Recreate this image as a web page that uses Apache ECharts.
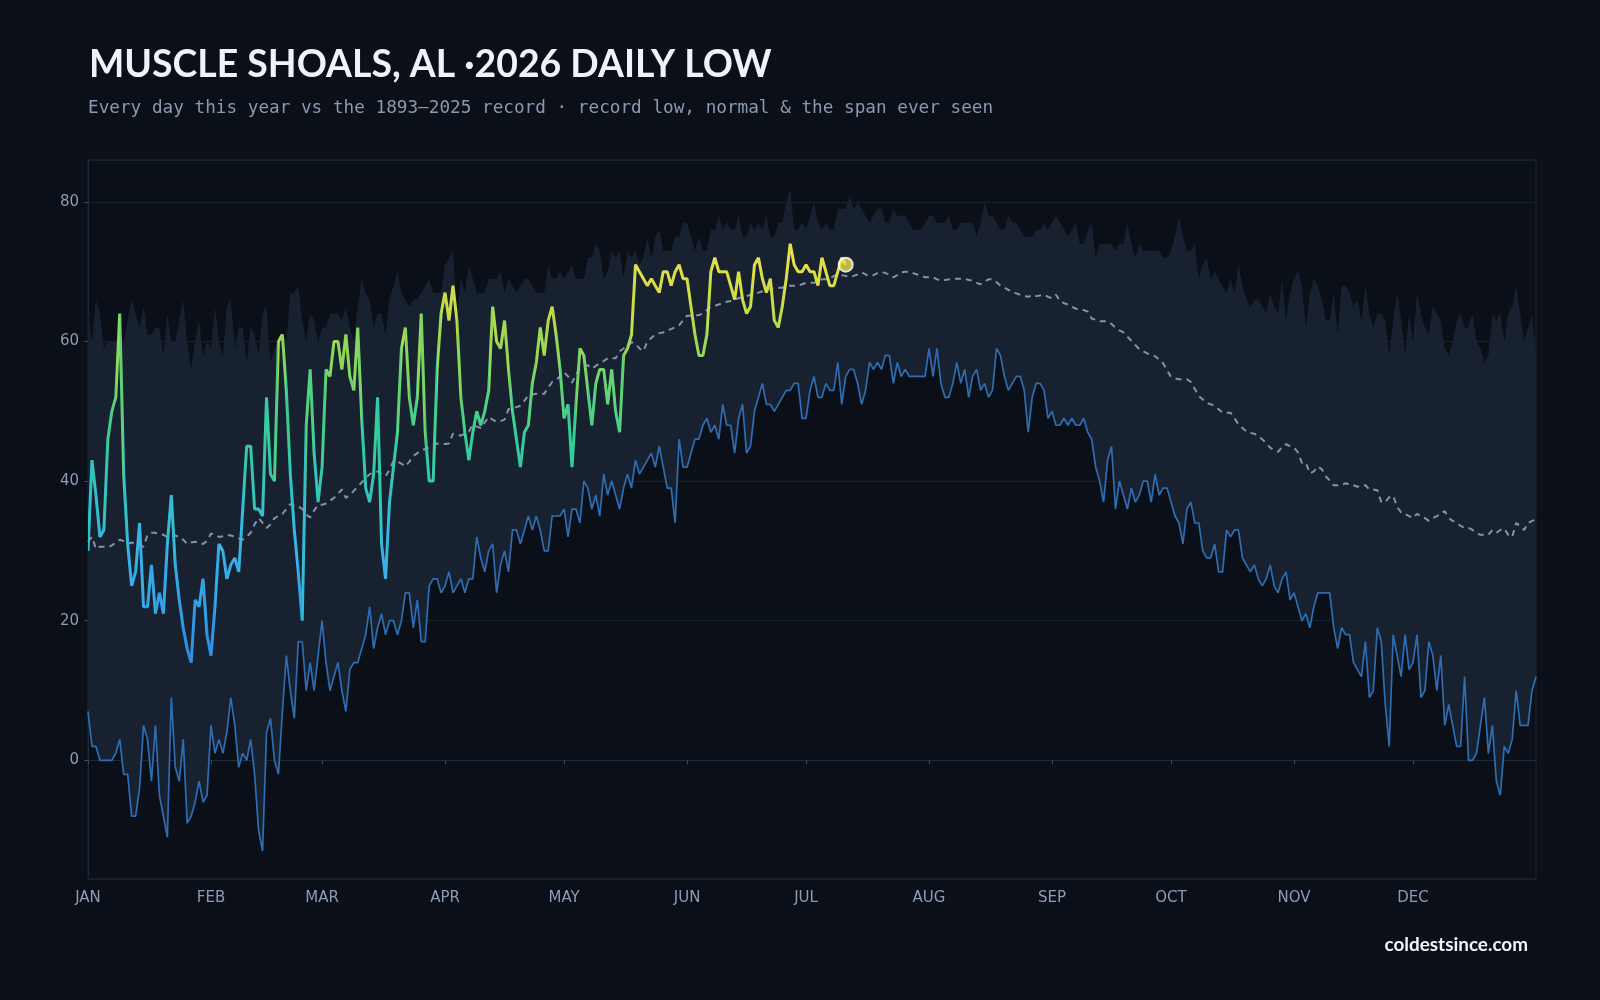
<!DOCTYPE html>
<html>
<head>
<meta charset="utf-8">
<script src="https://cdn.jsdelivr.net/npm/echarts@6/dist/echarts.min.js"></script>
<style>
  html, body { margin: 0; padding: 0; background: #0b0f17; }
  #chart { width: 1600px; height: 1000px; }
</style>
</head>
<body>
<div id="chart"></div>
<script>
// month ticks (day index where each month starts)
const MONTHS = ['JAN','FEB','MAR','APR','MAY','JUN','JUL','AUG','SEP','OCT','NOV','DEC'];
const MONTH_START = [0, 31, 59, 90, 120, 151, 181, 212, 243, 273, 304, 334];

// 2026 daily lows so far (Jan 1 .. Jul 11)
const LOW_2026 = [
  30, 43, 38, 32, 33, 46, 50, 52, 64, 41,
  31, 25, 27, 34, 22, 22, 28, 21, 24, 21,
  31, 38, 28, 23, 19, 16, 14, 23, 22, 26,
  18, 15, 22, 31, 30, 26, 28, 29, 27, 36,
  45, 45, 36, 36, 35, 52, 41, 40, 60, 61,
  53, 41, 33, 27, 20, 48, 56, 44, 37, 42,
  56, 55, 60, 60, 56, 61, 55, 53, 62, 49,
  39, 37, 41, 52, 31, 26, 37, 42, 47, 59,
  62, 52, 48, 52, 64, 47, 40, 40, 56, 64,
  67, 63, 68, 63, 52, 47, 43, 47, 50, 48,
  50, 53, 65, 60, 59, 63, 56, 50, 46, 42,
  47, 48, 54, 57, 62, 58, 63, 65, 61, 56,
  49, 51, 42, 51, 59, 58, 53, 48, 54, 56,
  56, 51, 56, 50, 47, 58, 59, 61, 71, 70,
  69, 68, 69, 68, 67, 70, 70, 68, 70, 71,
  69, 69, 65, 61, 58, 58, 61, 70, 72, 70,
  70, 70, 68, 66, 70, 66, 64, 65, 71, 72,
  69, 67, 69, 63, 62, 65, 69, 74, 71, 70,
  70, 71, 70, 70, 68, 72, 70, 68, 68, 70,
  72, 71
];

// record low for each day, 1893-2025
const REC_LOW = [
  7, 2, 2, 0, 0, 0, 0, 1, 3, -2,
  -2, -8, -8, -4, 5, 3, -3, 5, -5, -8,
  -11, 9, -1, -3, 3, -9, -8, -6, -3, -6,
  -5, 5, 1, 3, 1, 4, 9, 5, -1, 1,
  0, 3, -2, -10, -13, 4, 6, 0, -2, 7,
  15, 10, 6, 17, 17, 10, 14, 10, 15, 20,
  14, 10, 12, 14, 10, 7, 13, 14, 14, 16,
  18, 22, 16, 19, 21, 18, 20, 20, 18, 20,
  24, 24, 19, 23, 17, 17, 25, 26, 26, 24,
  25, 27, 24, 25, 26, 24, 26, 26, 32, 29,
  27, 30, 31, 24, 28, 30, 27, 33, 33, 31,
  33, 35, 33, 35, 33, 30, 30, 35, 35, 35,
  36, 32, 36, 36, 34, 40, 39, 36, 38, 35,
  41, 38, 40, 38, 36, 39, 41, 39, 43, 41,
  42, 43, 44, 42, 45, 42, 39, 39, 34, 46,
  42, 42, 44, 46, 46, 48, 49, 47, 48, 46,
  51, 48, 48, 44, 49, 51, 44, 45, 50, 52,
  54, 51, 51, 50, 51, 52, 53, 53, 54, 54,
  49, 49, 53, 55, 52, 52, 54, 53, 53, 57,
  51, 55, 56, 56, 54, 51, 53, 57, 56, 57,
  56, 58, 58, 54, 57, 55, 56, 55, 55, 55,
  55, 55, 59, 55, 59, 54, 52, 52, 54, 57,
  54, 56, 52, 55, 56, 53, 54, 52, 53, 59,
  58, 55, 53, 54, 55, 55, 53, 47, 52, 54,
  54, 53, 49, 50, 48, 48, 49, 48, 49, 48,
  48, 49, 47, 46, 42, 40, 37, 43, 45, 36,
  40, 38, 36, 39, 37, 38, 40, 40, 37, 41,
  38, 39, 39, 37, 35, 34, 31, 36, 37, 34,
  34, 30, 29, 29, 31, 27, 27, 33, 32, 33,
  33, 29, 28, 27, 28, 26, 25, 26, 28, 25,
  24, 26, 27, 23, 24, 22, 20, 21, 19, 22,
  24, 24, 24, 24, 19, 16, 19, 18, 18, 14,
  13, 12, 17, 9, 10, 19, 17, 8, 2, 18,
  15, 12, 18, 13, 14, 18, 9, 10, 17, 15,
  10, 15, 5, 8, 5, 2, 2, 12, 0, 0,
  1, 5, 9, 1, 5, -3, -5, 2, 1, 3,
  10, 5, 5, 5, 10, 12
];

// warmest low ever seen for each day (top of the span)
const REC_HIGH = [
  64, 60, 66, 64, 59, 60, 60, 60, 61, 60,
  63, 66, 64, 62, 65, 61, 61, 62, 62, 58,
  64, 60, 60, 63, 66, 60, 56, 60, 63, 58,
  60, 59, 65, 60, 58, 65, 66, 59, 62, 62,
  57, 62, 61, 58, 64, 65, 57, 59, 60, 61,
  60, 67, 67, 68, 63, 60, 64, 63, 60, 62,
  62, 64, 64, 64, 63, 65, 62, 60, 65, 69,
  67, 66, 62, 64, 64, 61, 66, 68, 70, 67,
  66, 65, 66, 66, 67, 68, 69, 67, 67, 67,
  71, 72, 73, 64, 69, 67, 71, 69, 67, 67,
  67, 69, 69, 69, 70, 67, 69, 68, 67, 68,
  69, 69, 68, 67, 67, 67, 71, 69, 69, 70,
  69, 70, 71, 69, 69, 69, 72, 72, 74, 73,
  69, 70, 73, 72, 73, 69, 73, 72, 73, 71,
  72, 75, 72, 75, 76, 73, 73, 73, 75, 75,
  77, 77, 75, 73, 75, 73, 73, 76, 76, 78,
  76, 77, 76, 76, 78, 75, 75, 77, 76, 77,
  76, 78, 75, 75, 77, 77, 80, 82, 76, 76,
  77, 76, 78, 80, 77, 76, 77, 76, 76, 79,
  79, 79, 81, 79, 80, 79, 78, 77, 78, 79,
  79, 77, 77, 79, 78, 78, 78, 77, 76, 76,
  76, 77, 78, 78, 77, 77, 77, 78, 76, 76,
  77, 77, 77, 77, 75, 77, 80, 78, 78, 77,
  76, 76, 78, 77, 77, 76, 75, 75, 75, 76,
  76, 77, 76, 77, 78, 77, 76, 75, 76, 77,
  74, 74, 76, 77, 72, 74, 74, 74, 74, 73,
  74, 74, 77, 74, 72, 74, 73, 73, 73, 73,
  73, 72, 72, 73, 75, 78, 75, 73, 73, 74,
  69, 71, 72, 69, 70, 69, 68, 67, 69, 67,
  71, 68, 66, 65, 66, 66, 65, 64, 67, 65,
  64, 69, 63, 67, 69, 70, 68, 62, 67, 69,
  68, 66, 63, 63, 67, 61, 68, 68, 67, 65,
  66, 63, 68, 64, 62, 64, 64, 63, 58, 63,
  67, 63, 58, 64, 60, 67, 64, 62, 61, 65,
  64, 63, 59, 58, 60, 63, 64, 62, 62, 64,
  60, 59, 57, 58, 64, 63, 64, 60, 64, 65,
  68, 64, 60, 62, 64, 58
];

// normal daily low
const NORMAL = [
  31.3, 32.0, 30.3, 30.6, 30.6, 30.5, 30.8, 31.2, 31.6, 31.4,
  31.0, 31.2, 31.0, 30.8, 30.6, 32.3, 32.6, 32.6, 32.4, 32.3,
  32.0, 32.0, 32.2, 32.0, 31.6, 31.0, 31.2, 31.3, 31.2, 31.0,
  31.4, 32.5, 32.3, 32.0, 32.1, 32.3, 32.2, 32.0, 31.8, 31.6,
  32.0, 32.6, 33.8, 34.7, 34.0, 33.3, 33.8, 34.7, 35.0, 35.3,
  36.0, 36.7, 36.5, 36.4, 36.0, 35.2, 34.8, 35.8, 36.6, 36.6,
  36.8, 37.2, 37.6, 38.2, 38.8, 37.6, 38.0, 38.6, 39.2, 39.8,
  40.4, 41.0, 41.2, 41.4, 41.0, 40.7, 41.6, 42.9, 42.8, 42.5,
  42.1, 42.8, 43.6, 44.0, 44.4, 44.6, 44.8, 45.1, 45.4, 45.3,
  45.3, 45.4, 46.8, 46.7, 46.5, 46.8, 47.1, 48.1, 47.8, 47.6,
  48.4, 49.2, 48.8, 48.5, 48.6, 48.8, 50.3, 50.5, 50.6, 50.8,
  51.5, 52.3, 52.4, 52.5, 52.5, 52.5, 53.4, 54.2, 54.5, 55.0,
  55.6, 55.0, 54.1, 55.2, 56.1, 56.4, 56.6, 56.1, 56.5, 56.9,
  57.2, 57.6, 57.6, 57.6, 58.6, 59.0, 59.3, 59.9, 59.7, 59.0,
  58.6, 60.0, 60.5, 61.0, 61.2, 61.3, 61.5, 61.8, 62.0, 62.3,
  63.0, 63.7, 63.7, 63.7, 63.8, 64.0, 64.5, 65.0, 65.1, 65.3,
  65.5, 65.7, 65.8, 66.0, 66.2, 66.4, 66.5, 66.7, 66.8, 67.0,
  67.2, 67.4, 67.5, 67.7, 67.7, 67.7, 67.9, 68.0, 68.0, 68.0,
  68.2, 68.4, 68.4, 68.4, 68.6, 68.9, 68.9, 69.0, 69.4, 69.6,
  69.5, 69.4, 69.2, 69.4, 69.6, 69.9, 69.6, 69.4, 69.5, 69.8,
  70.0, 69.8, 69.6, 69.2, 69.5, 69.9, 70.0, 70.0, 69.8, 69.6,
  69.4, 69.2, 69.2, 69.2, 68.9, 68.7, 68.8, 68.9, 69.0, 69.0,
  69.0, 69.0, 68.8, 68.7, 68.4, 68.2, 68.6, 68.9, 68.9, 68.5,
  68.0, 67.7, 67.4, 67.1, 66.9, 66.7, 66.5, 66.4, 66.7, 66.5,
  66.6, 66.7, 66.4, 66.2, 66.7, 65.8, 65.5, 65.3, 65.0, 64.7,
  64.6, 64.5, 64.3, 63.3, 63.1, 62.9, 62.9, 62.9, 62.5, 62.0,
  61.6, 61.3, 60.7, 60.1, 59.5, 58.9, 58.6, 58.3, 58.1, 57.9,
  57.4, 56.9, 55.9, 54.9, 54.7, 54.6, 54.6, 54.6, 54.2, 53.2,
  52.2, 51.7, 51.2, 51.0, 50.8, 50.3, 49.8, 49.8, 49.8, 49.0,
  48.1, 47.6, 47.1, 46.9, 46.8, 46.4, 46.0, 45.4, 44.8, 44.4,
  44.2, 44.9, 45.3, 45.0, 44.8, 44.1, 42.6, 42.6, 41.1, 41.4,
  42.1, 41.7, 40.7, 40.1, 39.4, 39.4, 39.4, 39.7, 39.5, 39.4,
  39.2, 39.4, 39.4, 38.8, 38.8, 38.7, 37.0, 37.0, 37.7, 37.9,
  36.3, 35.5, 35.3, 35.0, 34.7, 35.3, 35.0, 34.7, 34.3, 34.7,
  35.0, 35.3, 35.7, 34.7, 34.3, 34.0, 33.6, 33.3, 33.3, 33.0,
  32.6, 32.3, 32.3, 32.3, 33.0, 32.6, 33.0, 33.2, 32.3, 32.0,
  34.0, 33.6, 33.0, 34.0, 34.3, 34.5
];

// temperature -> colour ramp used for the 2026 line
const RAMP = [
  [14, '#2e86de'], [22, '#33a0e6'], [30, '#38b4e6'], [38, '#30c4c0'],
  [46, '#34cc98'], [52, '#58d27c'], [58, '#8ed75a'], [64, '#c2dc48'], [72, '#e6e04a']
];

function hexToRgb(h) {
  return [parseInt(h.slice(1, 3), 16), parseInt(h.slice(3, 5), 16), parseInt(h.slice(5, 7), 16)];
}
function rampColor(v) {
  if (v <= RAMP[0][0]) return RAMP[0][1];
  for (let i = 1; i < RAMP.length; i++) {
    if (v <= RAMP[i][0]) {
      const t = (v - RAMP[i - 1][0]) / (RAMP[i][0] - RAMP[i - 1][0]);
      const a = hexToRgb(RAMP[i - 1][1]), b = hexToRgb(RAMP[i][1]);
      const c = a.map((x, k) => Math.round(x + (b[k] - x) * t));
      return 'rgb(' + c.join(',') + ')';
    }
  }
  return RAMP[RAMP.length - 1][1];
}

const days = REC_LOW.map((_, i) => String(i));
const span = REC_HIGH.map((h, i) => h - REC_LOW[i]);

// each segment of the 2026 line takes the colour of its mean value
const pieces = [];
for (let i = 0; i < LOW_2026.length - 1; i++) {
  const p = { gte: i, color: rampColor((LOW_2026[i] + LOW_2026[i + 1]) / 2) };
  if (i === LOW_2026.length - 2) p.lte = i + 1; else p.lt = i + 1;
  pieces.push(p);
}
const lastIdx = LOW_2026.length - 1;
const lastVal = LOW_2026[lastIdx];

const chart = echarts.init(document.getElementById('chart'));

chart.setOption({
  backgroundColor: '#0b0f17',
  animation: false,
  title: [
    {
      text: 'MUSCLE SHOALS, AL ·2026 DAILY LOW',
      left: 84, top: 41,
      textStyle: { color: '#eef2fa', fontFamily: 'Lato', fontWeight: 'bold', fontSize: 37.4 }
    },
    {
      text: 'Every day this year vs the 1893–2025 record · record low, normal & the span ever seen',
      left: 83, top: 94,
      textStyle: { color: '#8a9bb1', fontFamily: 'DejaVu Sans Mono', fontWeight: 'normal', fontSize: 17.7 }
    },
    {
      text: 'coldestsince.com',
      right: 67, top: 930,
      textStyle: { color: '#f1f4f9', fontFamily: 'Lato', fontWeight: 'bold', fontSize: 18.9 }
    }
  ],
  grid: {
    left: 88, right: 64, top: 160, bottom: 121,
    show: true, borderColor: '#1d2a3a', borderWidth: 1, backgroundColor: 'transparent'
  },
  visualMap: {
    type: 'piecewise',
    show: false,
    dimension: 0,
    seriesIndex: 4,
    pieces: pieces
  },
  xAxis: {
    type: 'category',
    data: days,
    boundaryGap: false,
    axisLine: { lineStyle: { color: '#1d2a3a' } },
    axisTick: {
      interval: (i) => MONTH_START.indexOf(i) >= 0,
      length: 4, lineStyle: { color: '#3a4a60' }
    },
    axisLabel: {
      interval: (i) => MONTH_START.indexOf(i) >= 0,
      formatter: (v, i) => MONTHS[MONTH_START.indexOf(i)] || '',
      color: '#8b9cb4', fontSize: 15, fontFamily: 'DejaVu Sans', margin: 12
    },
    splitLine: { show: false }
  },
  yAxis: {
    type: 'value',
    min: -17, max: 86,
    axisLine: { show: true, lineStyle: { color: '#1d2a3a' } },
    axisTick: { show: true, length: 4, lineStyle: { color: '#3a4a60' } },
    axisLabel: {
      showMinLabel: false, showMaxLabel: false,
      formatter: (v) => (v % 20 === 0 ? String(v) : ''),
      color: '#8b9cb4', fontSize: 15, fontFamily: 'DejaVu Sans', margin: 9
    },
    splitLine: { lineStyle: { color: '#18222f', width: 1 } }
  },
  series: [
    {
      name: 'span-base', type: 'line', stack: 'span', stackStrategy: 'all', data: REC_LOW,
      symbol: 'none', lineStyle: { width: 0, opacity: 0 }, silent: true, z: 1
    },
    {
      name: 'span', type: 'line', stack: 'span', stackStrategy: 'all', data: span,
      symbol: 'none', lineStyle: { width: 0, opacity: 0 },
      areaStyle: { color: '#172130', opacity: 1 }, silent: true, z: 1
    },
    {
      name: 'record low', type: 'line', data: REC_LOW,
      symbol: 'none', lineStyle: { color: '#2f6db3', width: 1.7 }, z: 2
    },
    {
      name: 'normal', type: 'line', data: NORMAL,
      symbol: 'none', lineStyle: { color: '#8393aa', width: 2, type: [6, 5] }, z: 3
    },
    {
      name: '2026', type: 'line', data: LOW_2026,
      symbol: 'none', lineStyle: { width: 3 }, z: 4
    },
    {
      name: 'latest', type: 'scatter', data: [[lastIdx, lastVal]],
      symbolSize: 14,
      itemStyle: { color: rampColor(lastVal), borderColor: '#ffffff', borderWidth: 2 },
      z: 5
    }
  ]
});
</script>
</body>
</html>
